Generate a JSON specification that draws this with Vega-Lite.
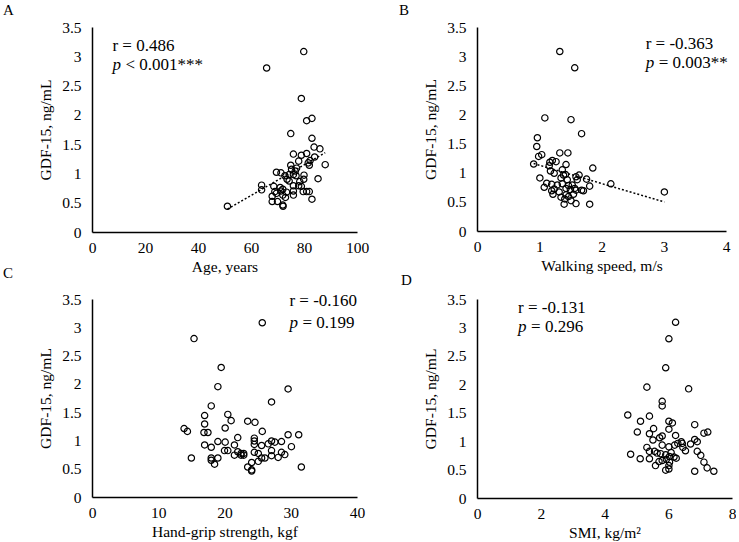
{
  "$schema": "https://vega.github.io/schema/vega-lite/v6.json",
  "background": "white",
  "padding": {"left": 3, "top": 3, "right": 0, "bottom": 0},
  "config": {
    "font": "Liberation Serif",
    "view": {"stroke": null},
    "axis": {
      "domainColor": "black", "domainWidth": 1.5, "ticks": false, "grid": false, "labelOverlap": false,
      "labelColor": "black", "labelFont": "Liberation Serif", "labelFontSize": 15.5,
      "titleColor": "black", "titleFont": "Liberation Serif", "titleFontSize": 15.5, "titleFontWeight": "normal"
    },
    "axisX": {"labelPadding": 8, "titlePadding": 4, "labelFlush": false, "format": "~r", "tickCount": 5},
    "axisY": {"labelPadding": 11, "titlePadding": 8, "format": "~r", "tickCount": 7},
    "title": {"anchor": "start", "frame": "group", "font": "Liberation Serif", "fontSize": 15, "fontWeight": "normal", "color": "black"},
    "text": {"font": "Liberation Serif", "color": "black", "fontSize": 17, "align": "left", "baseline": "middle"},
    "point": {"shape": "circle", "filled": false, "size": 40, "color": "black", "strokeWidth": 1.2, "opacity": 1},
    "line": {"color": "black", "strokeDash": [2, 2], "strokeWidth": 1.5}
  },
  "datasets": {
    "age": [
      {"age": 51.1, "gdf15": 0.44}, {"age": 65.9, "gdf15": 2.8}, {"age": 79.9, "gdf15": 3.08}, {"age": 79, "gdf15": 2.28},
      {"age": 81, "gdf15": 1.9}, {"age": 83, "gdf15": 1.94}, {"age": 75, "gdf15": 1.68}, {"age": 83, "gdf15": 1.6},
      {"age": 83.8, "gdf15": 1.45}, {"age": 86, "gdf15": 1.42}, {"age": 84, "gdf15": 1.28}, {"age": 76, "gdf15": 1.33},
      {"age": 79, "gdf15": 1.31}, {"age": 81, "gdf15": 1.34}, {"age": 78, "gdf15": 1.21}, {"age": 81.6, "gdf15": 1.18},
      {"age": 82, "gdf15": 1.14}, {"age": 88, "gdf15": 1.15}, {"age": 75, "gdf15": 1.14}, {"age": 75.3, "gdf15": 1.07},
      {"age": 76.7, "gdf15": 1.04}, {"age": 76, "gdf15": 0.98}, {"age": 69.6, "gdf15": 1.02}, {"age": 71.3, "gdf15": 1.01},
      {"age": 73.6, "gdf15": 0.9}, {"age": 77, "gdf15": 0.96}, {"age": 80, "gdf15": 0.97}, {"age": 79.9, "gdf15": 0.9},
      {"age": 72.8, "gdf15": 0.96}, {"age": 85.3, "gdf15": 0.91}, {"age": 64, "gdf15": 0.8}, {"age": 64, "gdf15": 0.72},
      {"age": 68.6, "gdf15": 0.78}, {"age": 71, "gdf15": 0.76}, {"age": 71.3, "gdf15": 0.7}, {"age": 72, "gdf15": 0.73},
      {"age": 69, "gdf15": 0.69}, {"age": 69.6, "gdf15": 0.66}, {"age": 68, "gdf15": 0.61}, {"age": 68, "gdf15": 0.52},
      {"age": 70, "gdf15": 0.52}, {"age": 72, "gdf15": 0.46}, {"age": 72.1, "gdf15": 0.44}, {"age": 73, "gdf15": 0.59},
      {"age": 76, "gdf15": 0.79}, {"age": 76, "gdf15": 0.7}, {"age": 76, "gdf15": 0.63}, {"age": 78, "gdf15": 0.79},
      {"age": 79, "gdf15": 0.78}, {"age": 79.7, "gdf15": 0.69}, {"age": 81, "gdf15": 0.69}, {"age": 82, "gdf15": 0.69},
      {"age": 83, "gdf15": 0.56}, {"age": 78.4, "gdf15": 0.86}, {"age": 74.4, "gdf15": 0.87}, {"age": 74.4, "gdf15": 0.98},
      {"age": 73.4, "gdf15": 0.68}, {"age": 72, "gdf15": 0.63}, {"age": 77.2, "gdf15": 1.09}, {"age": 82.3, "gdf15": 1.22}
    ],
    "walk": [
      {"walk": 1.33, "gdf15": 3.08}, {"walk": 1.57, "gdf15": 2.8}, {"walk": 1.09, "gdf15": 1.94}, {"walk": 1.51, "gdf15": 1.91},
      {"walk": 1.68, "gdf15": 1.67}, {"walk": 0.97, "gdf15": 1.6}, {"walk": 0.96, "gdf15": 1.45}, {"walk": 0.99, "gdf15": 1.28},
      {"walk": 1.04, "gdf15": 1.31}, {"walk": 1.33, "gdf15": 1.34}, {"walk": 1.46, "gdf15": 1.34}, {"walk": 0.91, "gdf15": 1.15},
      {"walk": 1.17, "gdf15": 1.18}, {"walk": 1.21, "gdf15": 1.21}, {"walk": 1.27, "gdf15": 1.19}, {"walk": 1.16, "gdf15": 1.12},
      {"walk": 1.43, "gdf15": 1.14}, {"walk": 1.18, "gdf15": 1.03}, {"walk": 1.24, "gdf15": 0.99}, {"walk": 1.37, "gdf15": 1.05},
      {"walk": 1.39, "gdf15": 0.96}, {"walk": 1.42, "gdf15": 0.97}, {"walk": 1.64, "gdf15": 0.96}, {"walk": 1.59, "gdf15": 0.93},
      {"walk": 1.86, "gdf15": 1.08}, {"walk": 1.01, "gdf15": 0.91}, {"walk": 1.35, "gdf15": 0.91}, {"walk": 1.61, "gdf15": 0.88},
      {"walk": 1.76, "gdf15": 0.89}, {"walk": 2.15, "gdf15": 0.81}, {"walk": 1.2, "gdf15": 0.8}, {"walk": 1.29, "gdf15": 0.79},
      {"walk": 1.37, "gdf15": 0.81}, {"walk": 1.47, "gdf15": 0.78}, {"walk": 1.53, "gdf15": 0.79}, {"walk": 1.81, "gdf15": 0.77},
      {"walk": 1.08, "gdf15": 0.75}, {"walk": 1.24, "gdf15": 0.72}, {"walk": 1.43, "gdf15": 0.73}, {"walk": 1.5, "gdf15": 0.71},
      {"walk": 1.57, "gdf15": 0.73}, {"walk": 1.59, "gdf15": 0.7}, {"walk": 1.68, "gdf15": 0.7}, {"walk": 1.71, "gdf15": 0.69},
      {"walk": 1.2, "gdf15": 0.69}, {"walk": 1.32, "gdf15": 0.67}, {"walk": 1.22, "gdf15": 0.63}, {"walk": 1.43, "gdf15": 0.62},
      {"walk": 1.35, "gdf15": 0.58}, {"walk": 1.47, "gdf15": 0.59}, {"walk": 1.41, "gdf15": 0.55}, {"walk": 1.51, "gdf15": 0.52},
      {"walk": 1.4, "gdf15": 0.46}, {"walk": 1.59, "gdf15": 0.47}, {"walk": 1.81, "gdf15": 0.46}, {"walk": 3.01, "gdf15": 0.67},
      {"walk": 1.55, "gdf15": 0.63}, {"walk": 1.12, "gdf15": 0.82}, {"walk": 1.45, "gdf15": 0.88}
    ],
    "grip": [
      {"grip": 25.7, "gdf15": 3.08}, {"grip": 15.4, "gdf15": 2.8}, {"grip": 19.5, "gdf15": 2.29}, {"grip": 19, "gdf15": 1.95},
      {"grip": 29.6, "gdf15": 1.91}, {"grip": 27.1, "gdf15": 1.68}, {"grip": 18, "gdf15": 1.61}, {"grip": 17, "gdf15": 1.44},
      {"grip": 20.5, "gdf15": 1.46}, {"grip": 21, "gdf15": 1.35}, {"grip": 23.5, "gdf15": 1.34}, {"grip": 24.6, "gdf15": 1.32},
      {"grip": 17, "gdf15": 1.29}, {"grip": 13.9, "gdf15": 1.21}, {"grip": 14.4, "gdf15": 1.16}, {"grip": 20.1, "gdf15": 1.22},
      {"grip": 16.9, "gdf15": 1.14}, {"grip": 17.5, "gdf15": 1.14}, {"grip": 25.7, "gdf15": 1.16}, {"grip": 29.6, "gdf15": 1.1},
      {"grip": 31.2, "gdf15": 1.1}, {"grip": 22, "gdf15": 1.05}, {"grip": 24.5, "gdf15": 1.04}, {"grip": 24.5, "gdf15": 0.99},
      {"grip": 19, "gdf15": 0.98}, {"grip": 20.1, "gdf15": 0.97}, {"grip": 27.1, "gdf15": 0.99}, {"grip": 27.6, "gdf15": 0.97},
      {"grip": 28.6, "gdf15": 0.98}, {"grip": 17, "gdf15": 0.92}, {"grip": 21.5, "gdf15": 0.92}, {"grip": 24.5, "gdf15": 0.93},
      {"grip": 26.6, "gdf15": 0.94}, {"grip": 25.6, "gdf15": 0.91}, {"grip": 18, "gdf15": 0.88}, {"grip": 30.1, "gdf15": 0.89},
      {"grip": 20, "gdf15": 0.82}, {"grip": 20.5, "gdf15": 0.82}, {"grip": 27.1, "gdf15": 0.82}, {"grip": 24.5, "gdf15": 0.79},
      {"grip": 22, "gdf15": 0.8}, {"grip": 22.5, "gdf15": 0.77}, {"grip": 22.9, "gdf15": 0.77}, {"grip": 28.6, "gdf15": 0.79},
      {"grip": 21.5, "gdf15": 0.74}, {"grip": 22.5, "gdf15": 0.74}, {"grip": 22.9, "gdf15": 0.74}, {"grip": 25.1, "gdf15": 0.77},
      {"grip": 29.1, "gdf15": 0.75}, {"grip": 27.1, "gdf15": 0.73}, {"grip": 15, "gdf15": 0.69}, {"grip": 18, "gdf15": 0.69},
      {"grip": 19, "gdf15": 0.69}, {"grip": 28.1, "gdf15": 0.7}, {"grip": 25.6, "gdf15": 0.69}, {"grip": 26.1, "gdf15": 0.69},
      {"grip": 18, "gdf15": 0.65}, {"grip": 25.1, "gdf15": 0.63}, {"grip": 24.1, "gdf15": 0.61}, {"grip": 18.5, "gdf15": 0.58},
      {"grip": 23.5, "gdf15": 0.53}, {"grip": 31.6, "gdf15": 0.53}, {"grip": 24.1, "gdf15": 0.48}, {"grip": 24.1, "gdf15": 0.46}
    ],
    "smi": [
      {"smi": 6.23, "gdf15": 3.09}, {"smi": 6.02, "gdf15": 2.8}, {"smi": 5.92, "gdf15": 2.29}, {"smi": 5.33, "gdf15": 1.95},
      {"smi": 6.64, "gdf15": 1.92}, {"smi": 5.81, "gdf15": 1.7}, {"smi": 5.81, "gdf15": 1.62}, {"smi": 4.73, "gdf15": 1.46},
      {"smi": 5.41, "gdf15": 1.44}, {"smi": 5.13, "gdf15": 1.35}, {"smi": 6.02, "gdf15": 1.35}, {"smi": 6.13, "gdf15": 1.32},
      {"smi": 6.83, "gdf15": 1.29}, {"smi": 5.54, "gdf15": 1.22}, {"smi": 6.02, "gdf15": 1.21}, {"smi": 5.03, "gdf15": 1.16},
      {"smi": 5.41, "gdf15": 1.13}, {"smi": 7.12, "gdf15": 1.14}, {"smi": 7.24, "gdf15": 1.16}, {"smi": 6.23, "gdf15": 1.1},
      {"smi": 5.81, "gdf15": 1.09}, {"smi": 5.73, "gdf15": 1.06}, {"smi": 5.52, "gdf15": 1.02}, {"smi": 6.83, "gdf15": 1.03},
      {"smi": 6.41, "gdf15": 0.99}, {"smi": 6.44, "gdf15": 0.96}, {"smi": 6.3, "gdf15": 0.96}, {"smi": 6.91, "gdf15": 0.99},
      {"smi": 6.2, "gdf15": 0.93}, {"smi": 5.81, "gdf15": 0.93}, {"smi": 6.7, "gdf15": 0.95}, {"smi": 6.02, "gdf15": 0.9},
      {"smi": 5.33, "gdf15": 0.89}, {"smi": 6.46, "gdf15": 0.89}, {"smi": 6.54, "gdf15": 0.83}, {"smi": 5.41, "gdf15": 0.82},
      {"smi": 5.57, "gdf15": 0.82}, {"smi": 6.91, "gdf15": 0.82}, {"smi": 5.65, "gdf15": 0.79}, {"smi": 5.76, "gdf15": 0.78},
      {"smi": 5.92, "gdf15": 0.76}, {"smi": 6.09, "gdf15": 0.8}, {"smi": 4.82, "gdf15": 0.77}, {"smi": 7.02, "gdf15": 0.75},
      {"smi": 6.04, "gdf15": 0.73}, {"smi": 6.18, "gdf15": 0.72}, {"smi": 6.25, "gdf15": 0.7}, {"smi": 5.94, "gdf15": 0.68},
      {"smi": 5.12, "gdf15": 0.69}, {"smi": 5.41, "gdf15": 0.69}, {"smi": 5.81, "gdf15": 0.66}, {"smi": 5.71, "gdf15": 0.64},
      {"smi": 6.04, "gdf15": 0.63}, {"smi": 7.12, "gdf15": 0.63}, {"smi": 5.6, "gdf15": 0.57}, {"smi": 6.02, "gdf15": 0.57},
      {"smi": 7.22, "gdf15": 0.53}, {"smi": 6.02, "gdf15": 0.51}, {"smi": 5.92, "gdf15": 0.49}, {"smi": 6.83, "gdf15": 0.47},
      {"smi": 7.43, "gdf15": 0.47}
    ]
  },
  "columns": 2,
  "spacing": {"row": 67, "column": 120},
  "bounds": "flush",
  "concat": [
    {
      "width": 265, "height": 205,
      "title": {"text": "A", "dx": -89, "offset": 2},
      "data": {"name": "age"},
      "layer": [
        {
          "mark": "point",
          "encoding": {
            "x": {"field": "age", "type": "quantitative", "title": "Age, years", "scale": {"domain": [0, 100]}},
            "y": {"field": "gdf15", "type": "quantitative", "title": "GDF-15, ng/mL", "scale": {"domain": [0, 3.5]}}
          }
        },
        {
          "transform": [{"regression": "gdf15", "on": "age"}],
          "mark": "line",
          "encoding": {"x": {"field": "age", "type": "quantitative"}, "y": {"field": "gdf15", "type": "quantitative"}}
        },
        {"data": {"values": [{}]}, "mark": {"type": "text", "text": "r = 0.486"}, "encoding": {"x": {"datum": 7.7}, "y": {"datum": 3.17}}},
        {"data": {"values": [{}]}, "mark": {"type": "text", "text": "p", "fontStyle": "italic"}, "encoding": {"x": {"datum": 7.7}, "y": {"datum": 2.85}}},
        {"data": {"values": [{}]}, "mark": {"type": "text", "text": "< 0.001***", "dx": 13}, "encoding": {"x": {"datum": 7.7}, "y": {"datum": 2.85}}}
      ]
    },
    {
      "width": 249, "height": 204,
      "title": {"text": "B", "dx": -78, "offset": 2},
      "data": {"name": "walk"},
      "layer": [
        {
          "mark": "point",
          "encoding": {
            "x": {"field": "walk", "type": "quantitative", "title": "Walking speed, m/s", "scale": {"domain": [0, 4]}},
            "y": {"field": "gdf15", "type": "quantitative", "title": "GDF-15, ng/mL", "scale": {"domain": [0, 3.5]}}
          }
        },
        {
          "transform": [{"regression": "gdf15", "on": "walk"}],
          "mark": "line",
          "encoding": {"x": {"field": "walk", "type": "quantitative"}, "y": {"field": "gdf15", "type": "quantitative"}}
        },
        {"data": {"values": [{}]}, "mark": {"type": "text", "text": "r = -0.363"}, "encoding": {"x": {"datum": 2.71}, "y": {"datum": 3.2}}},
        {"data": {"values": [{}]}, "mark": {"type": "text", "text": "p", "fontStyle": "italic"}, "encoding": {"x": {"datum": 2.71}, "y": {"datum": 2.88}}},
        {"data": {"values": [{}]}, "mark": {"type": "text", "text": "= 0.003**", "dx": 13}, "encoding": {"x": {"datum": 2.71}, "y": {"datum": 2.88}}}
      ]
    },
    {
      "width": 265, "height": 198,
      "title": {"text": "C", "dx": -89, "offset": 11},
      "data": {"name": "grip"},
      "layer": [
        {
          "mark": "point",
          "encoding": {
            "x": {"field": "grip", "type": "quantitative", "title": "Hand-grip strength, kgf", "scale": {"domain": [0, 40]}},
            "y": {"field": "gdf15", "type": "quantitative", "title": "GDF-15, ng/mL", "scale": {"domain": [0, 3.5]}}
          }
        },
        {"data": {"values": [{}]}, "mark": {"type": "text", "text": "r = -0.160"}, "encoding": {"x": {"datum": 29.8}, "y": {"datum": 3.46}}},
        {"data": {"values": [{}]}, "mark": {"type": "text", "text": "p", "fontStyle": "italic"}, "encoding": {"x": {"datum": 29.8}, "y": {"datum": 3.07}}},
        {"data": {"values": [{}]}, "mark": {"type": "text", "text": "= 0.199", "dx": 13}, "encoding": {"x": {"datum": 29.8}, "y": {"datum": 3.07}}}
      ]
    },
    {
      "width": 255, "height": 199,
      "title": {"text": "D", "dx": -76, "offset": 4},
      "data": {"name": "smi"},
      "layer": [
        {
          "mark": "point",
          "encoding": {
            "x": {"field": "smi", "type": "quantitative", "title": "SMI, kg/m²", "scale": {"domain": [0, 8]}},
            "y": {"field": "gdf15", "type": "quantitative", "title": "GDF-15, ng/mL", "scale": {"domain": [0, 3.5]}}
          }
        },
        {"data": {"values": [{}]}, "mark": {"type": "text", "text": "r = -0.131"}, "encoding": {"x": {"datum": 1.29}, "y": {"datum": 3.34}}},
        {"data": {"values": [{}]}, "mark": {"type": "text", "text": "p", "fontStyle": "italic"}, "encoding": {"x": {"datum": 1.29}, "y": {"datum": 3.0}}},
        {"data": {"values": [{}]}, "mark": {"type": "text", "text": "= 0.296", "dx": 13}, "encoding": {"x": {"datum": 1.29}, "y": {"datum": 3.0}}}
      ]
    }
  ]
}
